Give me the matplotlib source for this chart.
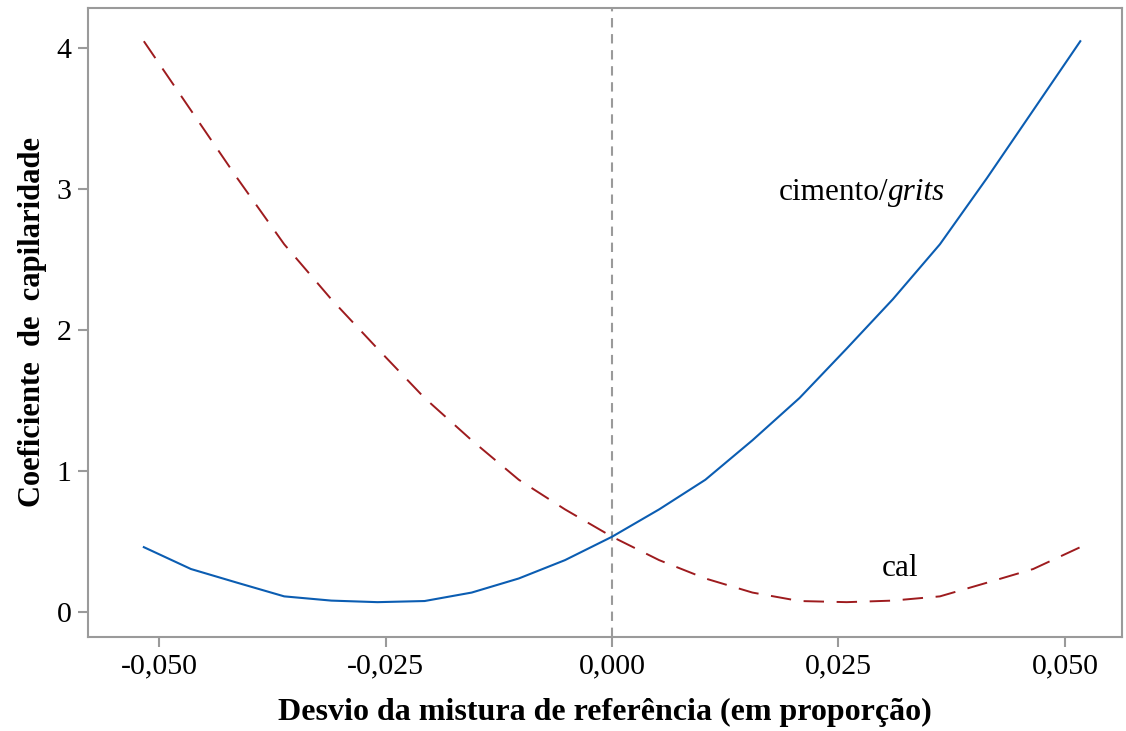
import matplotlib
matplotlib.use("Agg")
import matplotlib.pyplot as plt

# --- Daten: Antwortkurven über der Abweichung von der Referenzmischung ---
desvio = [-0.0517, -0.0465, -0.0414, -0.0362, -0.0310, -0.0259, -0.0207,
          -0.0155, -0.0103, -0.0052, 0.0, 0.0052, 0.0103, 0.0155, 0.0207,
          0.0259, 0.0310, 0.0362, 0.0414, 0.0465, 0.0517]
cimento_grits = [0.462, 0.307, 0.21, 0.113, 0.083, 0.072, 0.08, 0.14, 0.24,
                 0.37, 0.536, 0.73, 0.94, 1.22, 1.52, 1.87, 2.22, 2.61, 3.08,
                 3.56, 4.05]
cal = [4.05, 3.56, 3.08, 2.61, 2.22, 1.87, 1.52, 1.22, 0.94, 0.73, 0.536,
       0.37, 0.24, 0.14, 0.08, 0.072, 0.083, 0.113, 0.21, 0.307, 0.462]

xticks = [-0.050, -0.025, 0.0, 0.025, 0.050]
xticklabels = ["-0,050", "-0,025", "0,000", "0,025", "0,050"]
yticks = [0, 1, 2, 3, 4]

AZUL = "#0B5DB2"
VERMELHO = "#9E1B1E"
CINZA = "#9A9A9A"

plt.rcParams["font.family"] = ["Liberation Serif", "DejaVu Serif"]

fig = plt.figure(figsize=(11.26, 7.31), dpi=100)
ax = fig.add_axes([0.0782, 0.129, 0.9182, 0.8607])

ax.axvline(0, color=CINZA, lw=1.5, dashes=(4.5, 3.2), zorder=1)
ax.plot(desvio, cimento_grits, color=AZUL, lw=1.5, zorder=3)
ax.plot(desvio, cal, color=VERMELHO, lw=1.4, dashes=(10.5, 6.5), zorder=2)

ax.set_xlim(-0.05786, 0.0563)
ax.set_ylim(-0.173, 4.289)
ax.set_xticks(xticks)
ax.set_xticklabels(xticklabels)
ax.set_yticks(yticks)

for s in ax.spines.values():
    s.set_color(CINZA)
    s.set_linewidth(1.5)
ax.tick_params(axis="both", direction="out", length=7, width=1.5,
               color=CINZA, labelsize=21.5, labelcolor="black", pad=5)

ax.set_xlabel("Desvio da mistura de referência (em proporção)",
              fontsize=23, fontweight="bold", labelpad=13.5)
ax.set_ylabel("Coeficiente  de  capilaridade",
              fontsize=22, fontweight="bold", labelpad=7)

# Rótulos das curvas
t1 = ax.text(0.0184, 2.98, "cimento/", fontsize=22.5, va="center", ha="left")
ax.annotate("grits", xy=(1, 0), xycoords=t1, va="bottom", ha="left",
            fontsize=22.5, style="italic")
ax.text(0.0318, 0.31, "cal", fontsize=22.5, va="center", ha="center")

fig.savefig("out.png", dpi=100)
